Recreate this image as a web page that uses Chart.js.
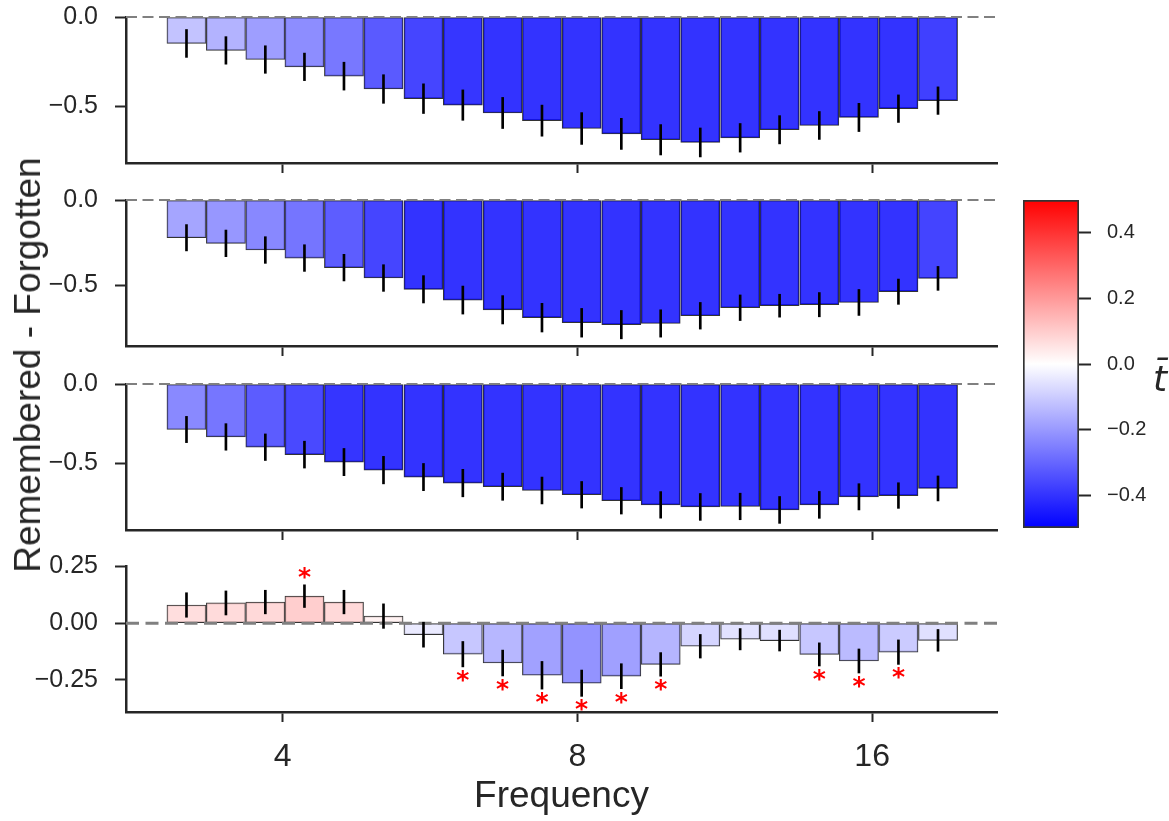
<!DOCTYPE html>
<html>
<head>
<meta charset="utf-8">
<script src="https://cdn.jsdelivr.net/npm/chart.js@4.4.1/dist/chart.umd.min.js"></script>
<style>
  body { margin: 0; background: #fff; width: 1169px; height: 821px; overflow: hidden; position: relative;
         font-family: "Liberation Sans", Arial, sans-serif; color: #262626; }
  canvas { position: absolute; }
  #ylabel { position: absolute; left: 28px; top: 365px; transform: translate(-50%, -50%) rotate(-90deg);
            white-space: nowrap; font-size: 37px; }
  #cblabel { position: absolute; left: 1160px; top: 378px; transform: translate(-50%, -50%);
             font-family: "DejaVu Sans", sans-serif; font-style: italic; font-size: 36px; }
</style>
</head>
<body>
<canvas id="p1" width="1010" height="183" style="left:0;top:0"></canvas>
<canvas id="p2" width="1010" height="183" style="left:0;top:183px"></canvas>
<canvas id="p3" width="1010" height="183" style="left:0;top:367px"></canvas>
<canvas id="p4" width="1010" height="272" style="left:0;top:549px"></canvas>
<canvas id="cb" width="159" height="360" style="left:1010px;top:185px"></canvas>
<div id="ylabel">Remembered - Forgotten</div>
<div id="cblabel">t&#x0304;</div>
<script>
// frecuencias (centro de cada barra)
const freqs = [3.19, 3.50, 3.84, 4.21, 4.62, 5.07, 5.57, 6.11, 6.71, 7.36,
               8.08, 8.87, 9.73, 10.68, 11.73, 12.87, 14.13, 15.51, 17.02, 18.68];

// panel 1
const vals1 = [-0.148, -0.187, -0.238, -0.279, -0.331, -0.403, -0.457, -0.493, -0.537, -0.580,
               -0.624, -0.654, -0.687, -0.702, -0.676, -0.631, -0.607, -0.562, -0.513, -0.468];
const err1 = [0.078, 0.077, 0.077, 0.077, 0.078, 0.080, 0.083, 0.085, 0.087, 0.087,
              0.089, 0.087, 0.085, 0.081, 0.080, 0.079, 0.078, 0.079, 0.077, 0.077];
// panel 2
const vals2 = [-0.221, -0.254, -0.293, -0.340, -0.396, -0.457, -0.523, -0.586, -0.643, -0.689,
               -0.719, -0.730, -0.723, -0.678, -0.631, -0.619, -0.613, -0.600, -0.537, -0.459];
const err2 = [0.077, 0.078, 0.078, 0.078, 0.078, 0.078, 0.080, 0.082, 0.083, 0.084,
              0.084, 0.083, 0.080, 0.078, 0.075, 0.067, 0.071, 0.076, 0.074, 0.070];
// panel 3
const vals3 = [-0.288, -0.335, -0.400, -0.447, -0.494, -0.545, -0.589, -0.627, -0.650, -0.674,
               -0.701, -0.739, -0.765, -0.778, -0.775, -0.797, -0.765, -0.714, -0.706, -0.661];
const err3 = [0.083, 0.084, 0.084, 0.085, 0.086, 0.087, 0.086, 0.087, 0.086, 0.085,
              0.084, 0.084, 0.084, 0.085, 0.084, 0.085, 0.085, 0.083, 0.081, 0.079];
// panel 4 (diferencia)
const vals4 = [0.080, 0.089, 0.093, 0.119, 0.093, 0.031, -0.051, -0.137, -0.176, -0.230,
               -0.265, -0.234, -0.182, -0.102, -0.071, -0.077, -0.138, -0.167, -0.128, -0.076];
const err4 = [0.054, 0.053, 0.052, 0.050, 0.052, 0.054, 0.055, 0.056, 0.057, 0.061,
              0.058, 0.055, 0.052, 0.052, 0.047, 0.046, 0.051, 0.053, 0.054, 0.048];
const sig4 = [3, 7, 8, 9, 10, 11, 12, 16, 17, 18]; // barras con asterisco

const xTicks = [4, 8, 16];
const yTicksTop = [-0.5, 0];
const yTicksBottom = [-0.25, 0, 0.25];
const cbTicks = [-0.4, -0.2, 0, 0.2, 0.4];

const FONT = '"Liberation Sans", Arial, sans-serif';
const INK = '#262626';
Chart.defaults.font.family = FONT;
Chart.defaults.color = INK;

// mapa de color bwr, rango [-0.5, 0.5]
function bwr(v, alpha) {
    let f = Math.min(1, Math.max(0, v + 0.5));
    let r, g, b;
    if (f < 0.5) { r = g = 2 * f; b = 1; }
    else { r = 1; g = b = 2 * (1 - f); }
    return 'rgba(' + Math.round(r * 255) + ',' + Math.round(g * 255) + ',' + Math.round(b * 255) + ',' + alpha + ')';
}

function fmt(v, d) {
    if (Math.abs(v) < 1e-9) return (0).toFixed(d);
    return (v < 0 ? '\u2212' : '') + Math.abs(v).toFixed(d);
}

// linea discontinua en cero, encima de las barras
const zeroLine = {
    id: 'zeroLine',
    afterDatasetDraw(chart, args, opts) {
        if (args.index !== 1) return;
        const {ctx, chartArea, scales: {y}} = chart;
        const py = y.getPixelForValue(0);
        ctx.save();
        ctx.strokeStyle = '#808080';
        ctx.lineWidth = opts.width;
        ctx.setLineDash(opts.dash);
        ctx.beginPath();
        ctx.moveTo(chartArea.left, py);
        ctx.lineTo(chartArea.right, py);
        ctx.stroke();
        ctx.restore();
    }
};

// asteriscos rojos de significancia
const stars = {
    id: 'stars',
    afterDatasetsDraw(chart, args, opts) {
        if (!opts.sig) return;
        const {ctx, scales: {x, y}} = chart;
        ctx.save();
        ctx.fillStyle = '#ff0000';
        ctx.font = 'bold 25px "DejaVu Sans"';
        ctx.textAlign = 'center';
        ctx.textBaseline = 'alphabetic';
        opts.sig.forEach(i => {
            const v = opts.vals[i], e = opts.errs[i];
            const px = x.getPixelForValue(freqs[i]);
            const cy = v >= 0 ? y.getPixelForValue(v + e) - 13 : y.getPixelForValue(v - e) + 8;
            ctx.fillText('*', px, cy + 13);
        });
        ctx.restore();
    }
};

function crearPanel(id, vals, errs, yMin, yMax, yTicks, dec, bottom, sig) {
    const xHeight = bottom ? 109 : 20;
    return new Chart(document.getElementById(id), {
        type: 'bar',
        data: {
            datasets: [{
                data: freqs.map((f, i) => ({x: f, y: [vals[i] - errs[i], vals[i] + errs[i]]})),
                backgroundColor: '#000',
                borderWidth: 0,
                barThickness: 2,
                grouped: false,
                order: 0
            }, {
                data: freqs.map((f, i) => ({x: f, y: vals[i]})),
                backgroundColor: vals.map(v => bwr(v, 0.8)),
                borderColor: '#333',
                borderWidth: 1,
                borderSkipped: false,
                barPercentage: 1,
                categoryPercentage: 1,
                grouped: false,
                order: 1
            }]
        },
        options: {
            responsive: false,
            animation: false,
            layout: {padding: {top: 17, right: 13, left: 0, bottom: 0}},
            plugins: {
                legend: {display: false},
                tooltip: {enabled: false},
                zeroLine: {width: bottom ? 3 : 2, dash: bottom ? [13, 6.5] : [11, 5.5]},
                stars: sig ? {sig: sig, vals: vals, errs: errs} : {}
            },
            scales: {
                x: {
                    type: 'logarithmic',
                    min: 2.767,
                    max: 21.46,
                    offset: false,
                    afterBuildTicks: s => { s.ticks = xTicks.map(v => ({value: v})); },
                    afterFit: s => { s.height = xHeight; s.paddingLeft = 0; s.paddingRight = 0; },
                    grid: {display: true, offset: false, drawOnChartArea: false, drawTicks: true, tickLength: 10, tickWidth: 2, tickColor: INK},
                    border: {display: true, color: INK, width: 2.5},
                    ticks: {
                        callback: v => bottom ? String(v) : '',
                        autoSkip: false,
                        maxRotation: 0,
                        padding: 16,
                        color: INK,
                        font: {size: 32}
                    },
                    title: {
                        display: bottom,
                        text: 'Frequency',
                        color: INK,
                        font: {size: 37},
                        padding: {top: 0, bottom: 2}
                    }
                },
                y: {
                    min: yMin,
                    max: yMax,
                    afterBuildTicks: s => { s.ticks = yTicks.map(v => ({value: v})); },
                    afterFit: s => { s.width = 126; s.paddingTop = 0; s.paddingBottom = 0; },
                    grid: {display: true, drawOnChartArea: false, drawTicks: true, tickLength: 11, tickWidth: 2, tickColor: INK},
                    border: {display: true, color: INK, width: 2.5},
                    ticks: {
                        callback: v => fmt(v, dec),
                        padding: 17,
                        color: INK,
                        font: {size: 25}
                    }
                }
            }
        },
        plugins: [zeroLine, stars]
    });
}

crearPanel('p1', vals1, err1, -0.817, 0, yTicksTop, 1, false, null);
crearPanel('p2', vals2, err2, -0.855, 0, yTicksTop, 1, false, null);
crearPanel('p3', vals3, err3, -0.924, 0, yTicksTop, 1, false, null);
crearPanel('p4', vals4, err4, -0.392, 0.252, yTicksBottom, 2, true, sig4);

// barra de color
new Chart(document.getElementById('cb'), {
    type: 'bar',
    data: {
        labels: [''],
        datasets: [{
            data: [[-0.5, 0.5]],
            backgroundColor: c => {
                const {ctx, chartArea} = c.chart;
                if (!chartArea) return '#fff';
                const g = ctx.createLinearGradient(0, chartArea.bottom, 0, chartArea.top);
                g.addColorStop(0, bwr(-0.5, 1));
                g.addColorStop(0.5, bwr(0, 1));
                g.addColorStop(1, bwr(0.5, 1));
                return g;
            },
            borderColor: '#333',
            borderWidth: 2,
            borderSkipped: false,
            barPercentage: 1,
            categoryPercentage: 1
        }]
    },
    options: {
        responsive: false,
        animation: false,
        layout: {padding: {left: 13, top: 15, bottom: 17, right: 0}},
        plugins: {legend: {display: false}, tooltip: {enabled: false}},
        scales: {
            x: {display: false},
            y: {
                position: 'right',
                min: -0.5,
                max: 0.5,
                afterBuildTicks: s => { s.ticks = cbTicks.map(v => ({value: v})); },
                afterFit: s => { s.width = 90; s.paddingTop = 0; s.paddingBottom = 0; },
                grid: {display: true, drawOnChartArea: false, drawTicks: true, tickLength: 12, tickWidth: 2, tickColor: INK},
                border: {display: false},
                ticks: {
                    callback: v => fmt(v, 1),
                    padding: 16,
                    color: INK,
                    font: {size: 20}
                }
            }
        }
    }
});
</script>
</body>
</html>
